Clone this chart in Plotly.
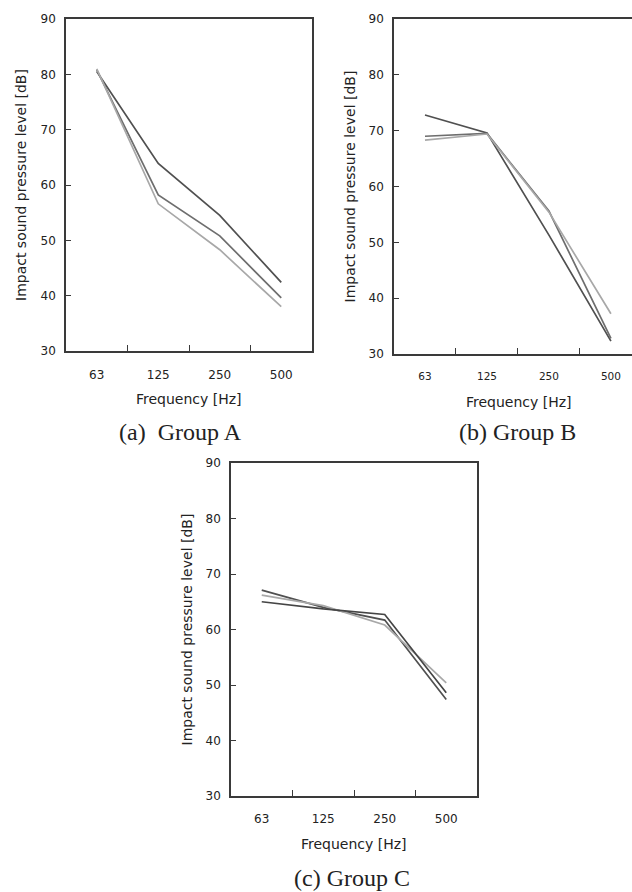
import plotly.graph_objects as go

W, H = 632, 892

freq_labels = ["63", "125", "250", "500"]
y_ticks = [30, 40, 50, 60, 70, 80, 90]

# Group A (3 floor specimens)
groupA_dark = [80.5, 63.9, 54.5, 42.4]
groupA_mid = [80.8, 58.2, 50.8, 39.6]
groupA_light = [81.0, 56.6, 48.3, 38.0]

# Group B
groupB_dark = [72.8, 69.6, 51.3, 32.3]
groupB_mid = [69.0, 69.5, 55.6, 32.8]
groupB_light = [68.3, 69.4, 55.4, 37.2]

# Group C
groupC_dark1 = [67.1, 64.0, 61.7, 47.4]
groupC_light = [66.2, 64.3, 60.8, 50.4]
groupC_dark2 = [65.0, 63.7, 62.7, 48.6]

captions = ["(a)  Group A", "(b) Group B", "(c) Group C"]
x_title = "Frequency [Hz]"
y_title = "Impact sound pressure level [dB]"

COL_DARK = "#505050"
COL_MID = "#6e6e6e"
COL_LIGHT = "#a8a8a8"
AX_COL = "#3a3a3a"
FONT = "DejaVu Sans"

fig = go.Figure()

panels = [
    ([(groupA_dark, COL_DARK), (groupA_mid, COL_MID), (groupA_light, COL_LIGHT)],
     (66, 312), (19, 351), 3.5, True, 12, 12),
    ([(groupB_dark, COL_DARK), (groupB_mid, COL_MID), (groupB_light, COL_LIGHT)],
     (394, 632), (19, 354), 3.34, False, 10.5, 12),
    ([(groupC_dark1, COL_DARK), (groupC_light, COL_LIGHT), (groupC_dark2, "#454545")],
     (231, 477), (463, 796), 3.5, True, 12, 11),
]

layout = dict(
    width=W, height=H, margin=dict(l=0, r=0, t=0, b=0),
    paper_bgcolor="white", plot_bgcolor="white", showlegend=False,
)

annotations = []
for i, (series, (x0, x1), (y0, y1), xmax, mirror_y, xfs, xstand) in enumerate(panels):
    n = "" if i == 0 else str(i + 1)
    xa, ya = "x" + n, "y" + n
    for vals, col in series:
        fig.add_trace(go.Scatter(
            x=freq_labels, y=vals, mode="lines",
            line=dict(color=col, width=1.7),
            xaxis=xa, yaxis=ya, hoverinfo="skip",
        ))
    layout["xaxis" + n] = dict(
        domain=[x0 / W, x1 / W], anchor=ya, type="category",
        range=[-0.5, xmax], tickson="boundaries", ticks="inside",
        ticklen=6, tickwidth=1.3, tickcolor=AX_COL,
        showline=True, linecolor=AX_COL, linewidth=1.5, mirror=True,
        showgrid=False, zeroline=False, automargin=False,
        tickfont=dict(family=FONT, size=xfs, color="#222"),
        ticklabelstandoff=xstand,
    )
    layout["yaxis" + n] = dict(
        domain=[1 - y1 / H, 1 - y0 / H], anchor=xa,
        range=[30, 90], tickvals=y_ticks, ticks="inside",
        ticklen=5, tickwidth=1.3, tickcolor=AX_COL,
        showline=True, linecolor=AX_COL, linewidth=1.5, mirror=mirror_y,
        showgrid=False, zeroline=False, automargin=False,
        tickfont=dict(family=FONT, size=12, color="#222"),
        ticklabelstandoff=6,
    )
    annotations.append(dict(
        text=x_title, xref="paper", yref="paper",
        x=((x0 + (x1 if i != 1 else 643)) / 2) / W,
        y=1 - ((y1 + 48) / H), xanchor="center", yanchor="middle",
        showarrow=False, font=dict(family=FONT, size=14, color="#222"),
    ))
    yt_x = {0: 21, 1: 350, 2: 186}[i]
    annotations.append(dict(
        text=y_title, xref="paper", yref="paper",
        x=yt_x / W, y=1 - ((y0 + y1) / 2) / H, textangle=-90,
        xanchor="center", yanchor="middle",
        showarrow=False, font=dict(family=FONT, size=14, color="#222"),
    ))

cap_pos = [(180, 432), (517, 432), (352, 878)]
for cap, (cx, cy) in zip(captions, cap_pos):
    annotations.append(dict(
        text=cap, xref="paper", yref="paper", x=cx / W, y=1 - cy / H,
        xanchor="center", yanchor="middle", showarrow=False,
        font=dict(family="Liberation Serif", size=24, color="#222"),
    ))

layout["annotations"] = annotations
fig.update_layout(**layout)
fig.write_html("out.html")
